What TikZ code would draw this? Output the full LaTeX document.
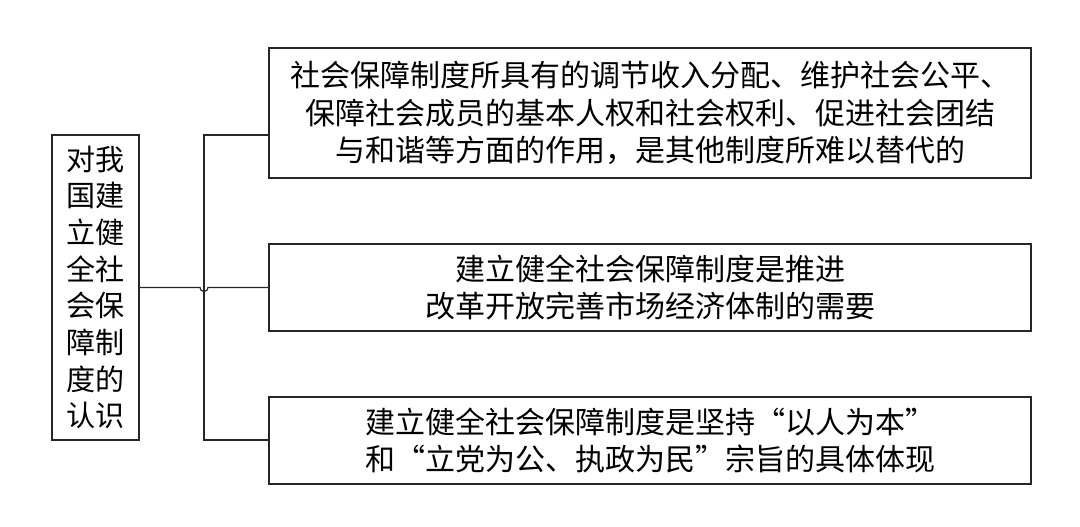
\documentclass[tikz,border=0pt]{standalone}
\usepackage{fontspec}
\newfontfamily\cjk{Noto Sans CJK SC}
\begin{document}
\begin{tikzpicture}[x=0.75pt,y=-0.75pt,
  box/.style={draw=black!85, line width=0.9pt, align=center, inner sep=0pt,
    font=\cjk\fontsize{22.5}{28}\selectfont},
  link/.style={draw=black!85, line width=0.9pt}]
\useasboundingbox (0,0) rectangle (1080,527);
\node[box, minimum width=87*0.75pt, minimum height=305*0.75pt,
  font=\cjk\fontsize{21.8}{27.5}\selectfont] (L) at (95.5,287.5)
  {对我\\国建\\立健\\全社\\会保\\障制\\度的\\认识};
\node[box, minimum width=762*0.75pt, minimum height=130*0.75pt] (A) at (650,113)
  {社会保障制度所具有的调节收入分配、维护社会公平、\\保障社会成员的基本人权和社会权利、促进社会团结\\与和谐等方面的作用，是其他制度所难以替代的};
\node[box, minimum width=762*0.75pt, minimum height=87*0.75pt] (B) at (650,287.5)
  {建立健全社会保障制度是推进\\改革开放完善市场经济体制的需要};
\node[box, minimum width=762*0.75pt, minimum height=87*0.75pt] (C) at (650,440.5)
  {建立健全社会保障制度是坚持“以人为本”\\和“立党为公、执政为民”宗旨的具体体现};
\coordinate (top) at (204,135);
\coordinate (bot) at (204,440);
\coordinate (hump) at (200,287.5);
\draw[link] (A.west |- top) -- (top) -- (bot) -- (C.west |- bot);
\draw[link] (L.east) -- (hump) arc[start angle=180, end angle=0, radius=4] -- (B.west);
\end{tikzpicture}
\end{document}
